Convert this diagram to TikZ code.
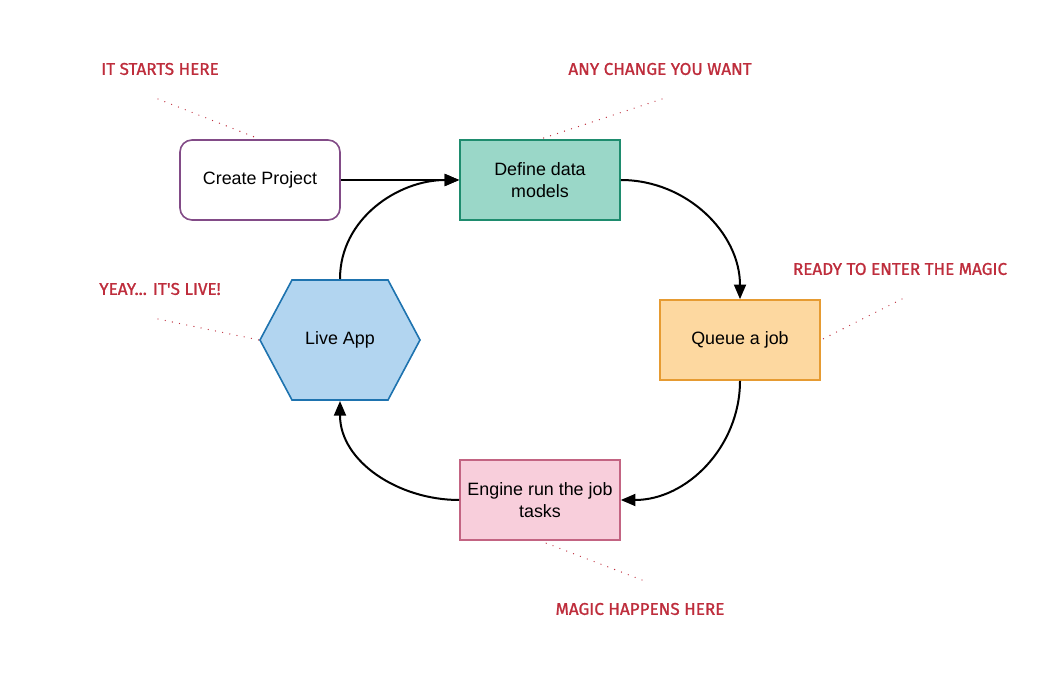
\documentclass[tikz,border=0pt]{standalone}
\usepackage{fontspec}
\setmainfont{Liberation Sans}
\newfontfamily\notefont[FakeBold=1.2]{Fira Sans}
\usepackage{tikz}
\usetikzlibrary{arrows.meta}

\definecolor{projline}{RGB}{130,75,135}
\definecolor{modelfill}{RGB}{154,215,200}
\definecolor{modelline}{RGB}{30,140,110}
\definecolor{queuefill}{RGB}{253,216,160}
\definecolor{queueline}{RGB}{230,155,50}
\definecolor{enginefill}{RGB}{248,206,219}
\definecolor{engineline}{RGB}{195,100,130}
\definecolor{livefill}{RGB}{178,213,240}
\definecolor{liveline}{RGB}{30,115,175}
\definecolor{notered}{RGB}{190,45,60}

\begin{document}
\begin{tikzpicture}[->,>={Triangle[length=11pt,width=9pt]},x=0.75pt,y=-0.75pt,line width=1.5pt,font=\fontsize{13.4}{16}\selectfont]
  \tikzstyle{box}=[draw,minimum width=120pt,minimum height=60pt,align=center,line width=1.2pt]
  \tikzstyle{note}=[text=notered,font=\notefont\fontsize{12.8}{14}\selectfont]
  \tikzstyle{notelink}=[-,draw=notered,line width=1pt,line cap=round,dash pattern=on 0pt off 5.5pt]

  \useasboundingbox (0,0) rectangle (1060,680);

  % hexagon drawn first, the node sits on top of it
  \filldraw[-,draw=liveline,fill=livefill,line width=1.2pt] (260,340) -- (292,280) -- (388,280) -- (420,340) -- (388,400) -- (292,400) -- cycle;

  \node[box, draw=projline, fill=white, rounded corners=9pt] (create) at (260,180) {Create Project};
  \node[box, draw=modelline, fill=modelfill]                 (define) at (540,180) {Define data\\models};
  \node[box, draw=queueline, fill=queuefill]                 (queue)  at (740,340) {Queue a job};
  \node[box, draw=engineline, fill=enginefill]               (engine) at (540,500) {Engine run the job\\tasks};
  \node[minimum width=120pt, minimum height=90pt]            (live)   at (340,340) {Live App};

  \path (create) edge                  (define)
        (define) edge [out=0,in=90]    (queue)
        (queue)  edge [out=-90,in=0]   (engine)
        (engine) edge [out=180,in=-90] (live)
        (live)   edge [out=90,in=180]  (define);

  % notes
  \node[note] (startnote)  at (160,69)  {IT STARTS HERE};
  \node[note] (changenote) at (660,69)  {ANY CHANGE YOU WANT};
  \node[note] (readynote)  at (900,269) {READY TO ENTER THE MAGIC};
  \node[note] (livenote)   at (160,289) {YEAY... IT'S LIVE!};
  \node[note] (magicnote)  at (640,609) {MAGIC HAPPENS HERE};

  \coordinate (startend)  at (158,99);
  \coordinate (changeend) at (662,99);
  \coordinate (readyend)  at (902,299);
  \coordinate (liveend)   at (158,319);
  \coordinate (magicend)  at (642,580);

  \draw[notelink] (startend)  -- (create.north);
  \draw[notelink] (changeend) -- (define.north);
  \draw[notelink] (readyend)  -- (queue.east);
  \draw[notelink] (liveend)   -- (live.west);
  \draw[notelink] (magicend)  -- (engine.south);
\end{tikzpicture}
\end{document}
